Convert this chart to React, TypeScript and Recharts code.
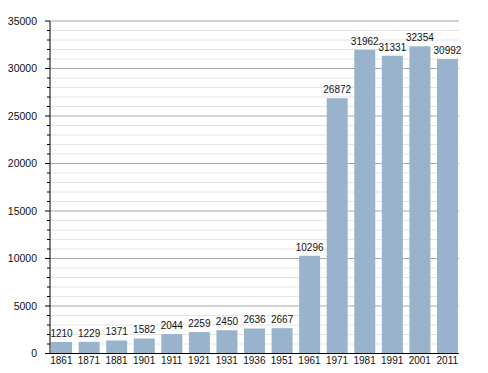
import { Bar, BarChart, CartesianGrid, LabelList, XAxis, YAxis } from "recharts";

const years = ["1861", "1871", "1881", "1901", "1911", "1921", "1931", "1936", "1951", "1961", "1971", "1981", "1991", "2001", "2011"];
const population = [1210, 1229, 1371, 1582, 2044, 2259, 2450, 2636, 2667, 10296, 26872, 31962, 31331, 32354, 30992];
const majorTicks = [0, 5000, 10000, 15000, 20000, 25000, 30000, 35000];
const minorTicks = [
  1000, 2000, 3000, 4000, 6000, 7000, 8000, 9000, 11000, 12000, 13000, 14000,
  16000, 17000, 18000, 19000, 21000, 22000, 23000, 24000, 26000, 27000, 28000,
  29000, 31000, 32000, 33000, 34000,
];
const allTicks = [...majorTicks, ...minorTicks].sort((a, b) => a - b);

const data = years.map((year, i) => ({ year, pop: population[i] }));

const FONT = "'Liberation Sans', Arial, sans-serif";

/** Y tick: a short mark for every 1000, a longer one plus a label every 5000. */
function YTick(props: any) {
  const { x, y, payload } = props;
  const major = payload.value % 5000 === 0;
  return (
    <g>
      <line x1={x - (major ? 5 : 3)} x2={x} y1={y} y2={y} stroke="#000" strokeWidth={1} />
      {major && (
        <text x={x - 13} y={y} dy="0.35em" textAnchor="end" fontSize={10.5} fontFamily={FONT} fill="#111">
          {payload.value}
        </text>
      )}
    </g>
  );
}

export default function App() {
  return (
    <div style={{ position: "fixed", left: 0, top: 0, background: "#fff" }}>
      <BarChart
        width={488}
        height={373}
        data={data}
        margin={{ top: 21, right: 29, bottom: 0, left: 0 }}
        barCategoryGap="12.5%"
      >
        <CartesianGrid vertical={false} horizontalValues={minorTicks} stroke="#e4e4e4" />
        <CartesianGrid vertical={false} horizontalValues={majorTicks.slice(1)} stroke="#a8a8a8" />
        <XAxis
          dataKey="year"
          interval={0}
          tickLine={false}
          tickSize={0}
          tickMargin={3}
          height={19.5}
          padding={{ left: -2.4, right: -2.1 }}
          axisLine={{ stroke: "#000" }}
          tick={{ fontSize: 10, fontFamily: FONT, fill: "#111" }}
        />
        <YAxis
          width={50}
          domain={[0, 35000]}
          ticks={allTicks}
          interval={0}
          tickLine={false}
          tickSize={0}
          tickMargin={0}
          axisLine={{ stroke: "#000" }}
          tick={<YTick />}
        />
        <Bar dataKey="pop" fill="#9ab3cd" isAnimationActive={false}>
          <LabelList dataKey="pop" position="top" fontSize={10} fontFamily={FONT} fill="#111" />
        </Bar>
      </BarChart>
    </div>
  );
}
